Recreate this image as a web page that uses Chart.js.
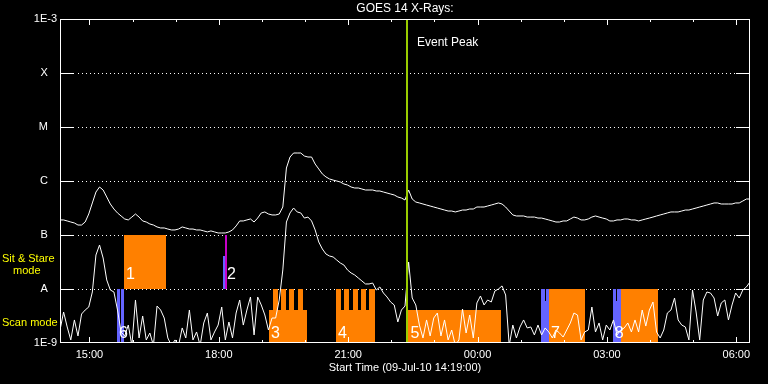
<!DOCTYPE html>
<html>
<head>
<meta charset="utf-8">
<script src="https://cdn.jsdelivr.net/npm/chart.js@4"></script>
<style>
  html, body { margin: 0; background: #000; }
  #wrap { width: 768px; height: 384px; }
</style>
</head>
<body>
<div id="wrap"><canvas id="goes"></canvas></div>
<script>
// hours after 09-Jul-10 14:19:00, one sample every 5 minutes
const stepHours = 5 / 60;

// GOES 14 long channel (upper curve), W/m^2
const longFlux = [
  1.90e-7,1.90e-7,1.82e-7,1.74e-7,1.67e-7,1.53e-7,1.53e-7,1.74e-7,2.45e-7,3.92e-7,6.25e-7,7.74e-7,
  6.81e-7,5.06e-7,3.75e-7,3.03e-7,2.56e-7,2.25e-7,1.98e-7,1.90e-7,2.15e-7,2.45e-7,2.15e-7,1.82e-7,
  1.74e-7,1.60e-7,1.53e-7,1.41e-7,1.35e-7,1.35e-7,1.29e-7,1.24e-7,1.24e-7,1.29e-7,1.41e-7,1.35e-7,
  1.29e-7,1.29e-7,1.24e-7,1.24e-7,1.19e-7,1.14e-7,1.19e-7,1.14e-7,1.09e-7,1.09e-7,1.09e-7,1.14e-7,
  1.24e-7,1.47e-7,1.82e-7,1.82e-7,1.90e-7,1.98e-7,1.74e-7,2.06e-7,2.56e-7,2.67e-7,2.45e-7,2.35e-7,
  2.35e-7,2.45e-7,3.30e-7,1.74e-6,2.78e-6,3.30e-6,3.30e-6,3.30e-6,2.90e-6,2.78e-6,2.78e-6,2.06e-6,
  1.67e-6,1.35e-6,1.19e-6,1.09e-6,1.04e-6,1.00e-6,9.58e-7,8.80e-7,8.43e-7,7.74e-7,7.42e-7,7.42e-7,
  7.11e-7,6.81e-7,6.81e-7,6.81e-7,6.53e-7,6.53e-7,6.25e-7,5.99e-7,5.74e-7,5.51e-7,5.06e-7,4.84e-7,
  4.45e-7,6.81e-7,4.64e-7,4.08e-7,3.92e-7,3.75e-7,3.59e-7,3.44e-7,3.30e-7,3.16e-7,3.03e-7,2.90e-7,
  2.78e-7,2.78e-7,2.67e-7,2.78e-7,2.90e-7,2.90e-7,3.03e-7,3.03e-7,3.30e-7,3.30e-7,3.30e-7,3.44e-7,
  3.59e-7,3.75e-7,3.92e-7,3.75e-7,3.30e-7,2.78e-7,2.35e-7,2.25e-7,2.25e-7,2.25e-7,2.15e-7,2.15e-7,
  2.15e-7,2.06e-7,2.06e-7,1.98e-7,1.90e-7,1.82e-7,1.74e-7,1.74e-7,1.82e-7,1.82e-7,1.98e-7,2.15e-7,
  2.06e-7,1.90e-7,1.90e-7,1.98e-7,2.15e-7,2.25e-7,2.15e-7,2.06e-7,1.98e-7,1.82e-7,1.82e-7,1.90e-7,
  1.90e-7,1.98e-7,1.98e-7,1.90e-7,1.90e-7,1.82e-7,1.90e-7,1.98e-7,2.06e-7,2.15e-7,2.25e-7,2.35e-7,
  2.45e-7,2.56e-7,2.67e-7,2.67e-7,2.67e-7,2.78e-7,2.90e-7,2.90e-7,3.03e-7,3.16e-7,3.30e-7,3.44e-7,
  3.59e-7,3.75e-7,3.92e-7,3.92e-7,3.75e-7,3.75e-7,3.75e-7,3.75e-7,3.92e-7,3.92e-7,4.26e-7,4.64e-7,
  4.64e-7
];

// GOES 14 short channel (lower curve), W/m^2
const shortFlux = [
  1.74e-9,3.75e-9,1.98e-9,1.14e-9,2.67e-9,1.35e-9,3.44e-9,4.08e-9,4.64e-9,8.80e-9,4.26e-8,6.53e-8,
  3.75e-8,1.47e-8,9.58e-9,8.80e-9,4.08e-9,1.60e-9,1.35e-9,2.15e-9,9e-10,6.26e-9,1.24e-9,3.16e-9,
  1.14e-9,1.53e-9,9e-10,4.84e-9,4.08e-9,2.90e-9,1.24e-9,9e-10,1.14e-9,9e-10,1.90e-9,1.24e-9,
  4.08e-9,1.14e-9,1.60e-9,9e-10,2.35e-9,3.59e-9,1.14e-9,1.60e-9,2.15e-9,4.64e-9,1.14e-9,2.45e-9,
  1.24e-9,3.59e-9,6.26e-9,2.15e-9,4.08e-9,7.11e-9,1.41e-9,7.11e-9,5.06e-9,3.30e-9,1.74e-9,2.90e-9,
  2.90e-9,6.26e-9,2.25e-8,1.74e-7,2.56e-7,3.16e-7,2.67e-7,2.56e-7,2.06e-7,2.15e-7,1.82e-7,1.24e-7,
  7.42e-8,5.51e-8,4.45e-8,4.08e-8,3.92e-8,3.44e-8,3.03e-8,2.78e-8,2.25e-8,1.98e-8,1.82e-8,1.60e-8,
  1.41e-8,1.24e-8,1.24e-8,1.29e-8,9.58e-9,1.09e-8,8.43e-9,7.11e-9,5.74e-9,5.06e-9,2.45e-9,4.08e-9,
  4.84e-9,3.16e-8,6.81e-9,5.06e-9,2.15e-9,1.24e-9,2.67e-9,1.35e-9,2.90e-9,3.59e-9,1.35e-9,2.67e-9,
  1.14e-9,1.74e-9,9e-10,1.14e-9,4.26e-9,1.53e-9,3.30e-9,1.24e-9,5.51e-9,7.42e-9,5.06e-9,6.26e-9,
  5.74e-9,9.18e-9,1.00e-8,1.14e-8,7.74e-9,9e-10,2.15e-9,1.24e-9,1.98e-9,2.67e-9,1.90e-9,1.98e-9,
  1.41e-9,2.15e-9,1.41e-9,1.90e-9,1.60e-9,1.24e-9,1.74e-9,1.53e-9,1.29e-9,1.74e-9,2.35e-9,3.59e-9,
  3.30e-9,1.14e-9,1.60e-9,1.74e-9,4.64e-9,1.60e-9,2.35e-9,1.14e-9,2.15e-9,1.74e-9,2.67e-9,1.41e-9,
  1.74e-9,1.90e-9,2.35e-9,1.60e-9,2.67e-9,1.60e-9,4.08e-9,2.06e-9,4.08e-9,5.74e-9,1.60e-9,1.24e-9,
  1.74e-9,3.59e-9,4.08e-9,6.81e-9,2.67e-9,2.15e-9,1.98e-9,1.14e-9,9.58e-9,3.75e-9,1.14e-9,6.26e-9,
  8.80e-9,8.43e-9,6.81e-9,3.16e-9,5.51e-9,6.26e-9,2.67e-9,5.06e-9,8.43e-9,6.81e-9,9.58e-9,1.09e-8,
  1.35e-8
];

// y axis: flux classes
const fluxTicks = [1e-9, 1e-8, 1e-7, 1e-6, 1e-5, 1e-4, 1e-3];
const fluxLabels = ['1E-9', 'A   ', 'B   ', 'C   ', 'M   ', 'X   ', '1E-3'];
const classLevels = [1e-8, 1e-7, 1e-6, 1e-5, 1e-4];

// x axis: whole clock hours, first one (15:00) is 41 min after start
const firstClockHour = 41 / 60;
const hourLabels = ['15:00','','','18:00','','','21:00','','','00:00','','','03:00','','','06:00'];

const eventPeakHour = 8.046;

// observing blocks, hours after start
const sitStareBlocks = [[1.484, 2.458]];           // orange, B..A
const sitStareMagenta = [[3.826, 3.872]];          // B..A
const sitStareBlue = [[3.780, 3.826]];             // up to 4.1e-8
const scanBase = [[4.846, 5.728], [6.400, 7.304], [8.081, 10.226]];   // up to 4.1e-9
const scanTeeth = [[4.939, 5.055], [5.125, 5.241], [5.310, 5.426], [5.519, 5.635],
                   [6.400, 6.516], [6.593, 6.709], [6.787, 6.903], [6.980, 7.096], [7.172, 7.304]];
const scanFull = [[11.339, 12.174], [13.001, 13.859]];
const scanBlue = [[1.322, 1.398], [1.421, 1.484], [11.154, 11.339], [12.816, 13.001]];
const scanBlueNotch = [[11.239, 11.262], [12.886, 12.916]];  // 6.1e-9..A

const blockNames = ['1', '2', '6', '3', '4', '5', '7', '8'];
const blockNameHours = [1.484, 3.826, 1.322, 4.846, 6.400, 8.081, 11.339, 12.816];
const blockNameRow = ['sit', 'sit', 'scan', 'scan', 'scan', 'scan', 'scan', 'scan'];

const FONT = "'Liberation Sans', Arial, sans-serif";
const ORANGE = '#ff8000';
const BLUE = '#6464ff';
const MAGENTA = '#c800c8';

const goesDecor = {
  id: 'goesDecor',
  beforeDatasetsDraw(chart) {
    const {ctx, chartArea: a, scales: {x, y}} = chart;
    ctx.save();
    // dotted class lines
    ctx.strokeStyle = '#fff';
    ctx.lineWidth = 1;
    ctx.setLineDash([1, 3]);
    classLevels.forEach(v => {
      const py = Math.round(y.getPixelForValue(v)) + 0.5;
      ctx.beginPath();
      ctx.moveTo(a.left + 18, py);
      ctx.lineTo(a.right - 14, py);
      ctx.stroke();
    });
    ctx.setLineDash([]);

    const rect = (t0, t1, f0, f1, color) => {
      const x0 = Math.round(x.getPixelForValue(t0));
      const x1 = Math.round(x.getPixelForValue(t1));
      const y0 = Math.round(y.getPixelForValue(f0));
      const y1 = Math.round(y.getPixelForValue(f1));
      ctx.fillStyle = color;
      ctx.fillRect(x0, y1, x1 - x0, y0 - y1);
    };
    sitStareBlocks.forEach(b => rect(b[0], b[1], 1e-8, 1e-7, ORANGE));
    sitStareBlue.forEach(b => rect(b[0], b[1], 1e-8, 4.1e-8, BLUE));
    sitStareMagenta.forEach(b => rect(b[0], b[1], 1e-8, 1e-7, MAGENTA));
    scanBase.forEach(b => rect(b[0], b[1], 1e-9, 4.1e-9, ORANGE));
    scanTeeth.forEach(b => rect(b[0], b[1], 4e-9, 1e-8, ORANGE));
    scanFull.forEach(b => rect(b[0], b[1], 1e-9, 1e-8, ORANGE));
    scanBlue.forEach(b => rect(b[0], b[1], 1e-9, 1e-8, BLUE));
    scanBlueNotch.forEach(b => rect(b[0], b[1], 6.1e-9, 1e-8, '#000'));
    ctx.restore();
  },
  afterDatasetsDraw(chart) {
    const {ctx, chartArea: a, scales: {x, y}} = chart;
    ctx.save();

    // block numbers
    ctx.fillStyle = '#fff';
    ctx.font = '16px ' + FONT;
    ctx.textBaseline = 'alphabetic';
    ctx.textAlign = 'left';
    blockNames.forEach((n, i) => {
      const px = x.getPixelForValue(blockNameHours[i]) + 2;
      const py = blockNameRow[i] === 'sit' ? y.getPixelForValue(1e-8) - 10 : y.getPixelForValue(1e-9) - 5;
      ctx.fillText(n, px, py);
    });

    // event peak
    const ex = x.getPixelForValue(eventPeakHour);
    ctx.fillStyle = '#99cc00';
    ctx.fillRect(Math.round(ex) - 1, a.top, 2, a.bottom - a.top);
    ctx.fillStyle = '#fff';
    ctx.font = '12px ' + FONT;
    ctx.textBaseline = 'middle';
    ctx.fillText('Event Peak', ex + 10, a.top + 24);

    // frame
    ctx.strokeStyle = '#fff';
    ctx.lineWidth = 1;
    ctx.strokeRect(a.left + 0.5, a.top + 0.5, a.right - a.left - 1, a.bottom - a.top - 1);

    // class ticks on both sides
    classLevels.forEach(v => {
      const py = Math.round(y.getPixelForValue(v)) + 0.5;
      ctx.beginPath();
      ctx.moveTo(a.left, py); ctx.lineTo(a.left + 14, py);
      ctx.moveTo(a.right - 14, py); ctx.lineTo(a.right, py);
      ctx.stroke();
    });

    // hour ticks at top and bottom, longer every 3 h
    hourLabels.forEach((lab, i) => {
      const px = Math.round(x.getPixelForValue(firstClockHour + i)) + 0.5;
      const len = lab ? 6 : 3;
      ctx.beginPath();
      ctx.moveTo(px, a.top); ctx.lineTo(px, a.top + len);
      ctx.moveTo(px, a.bottom); ctx.lineTo(px, a.bottom - len);
      ctx.stroke();
    });

    // title
    ctx.textAlign = 'center';
    ctx.font = '12px ' + FONT;
    ctx.fillText('GOES 14 X-Rays:', (a.left + a.right) / 2, 9);

    // mode labels
    ctx.fillStyle = '#ffff00';
    ctx.font = '11px ' + FONT;
    ctx.textAlign = 'left';
    const ssMid = y.getPixelForValue(Math.sqrt(1e-7 * 1e-8));
    ctx.fillText('Sit & Stare', 2, ssMid - 3);
    ctx.fillText('mode', 13, ssMid + 9);
    const scMid = y.getPixelForValue(Math.sqrt(1e-8 * 1e-9));
    ctx.fillText('Scan mode', 2, scMid + 7);
    ctx.restore();
  }
};

new Chart(document.getElementById('goes'), {
  type: 'line',
  data: {
    datasets: [
      {
        label: 'long',
        data: longFlux.map((v, i) => ({x: i * stepHours, y: v})),
        borderColor: '#fff',
        borderWidth: 1,
        pointRadius: 0,
        fill: false
      },
      {
        label: 'short',
        data: shortFlux.map((v, i) => ({x: i * stepHours, y: v})),
        borderColor: '#fff',
        borderWidth: 1,
        pointRadius: 0,
        fill: false
      }
    ]
  },
  options: {
    responsive: true,
    maintainAspectRatio: false,
    animation: false,
    layout: { padding: { left: 0, right: 18, top: 19, bottom: 0 } },
    plugins: { legend: { display: false }, tooltip: { enabled: false } },
    scales: {
      x: {
        type: 'linear',
        min: 0,
        max: 16,
        grid: { display: false, drawTicks: false },
        border: { display: false },
        afterBuildTicks: scale => {
          scale.ticks = hourLabels.map((l, i) => ({ value: firstClockHour + i }));
        },
        afterFit: scale => { scale.height = 41; },
        ticks: {
          color: '#fff',
          font: { family: FONT, size: 11 },
          padding: 5,
          autoSkip: false,
          maxRotation: 0,
          callback: (v, i) => hourLabels[i]
        },
        title: {
          display: true,
          text: 'Start Time (09-Jul-10 14:19:00)',
          color: '#fff',
          font: { family: FONT, size: 11 },
          padding: { top: 0, bottom: 9 }
        }
      },
      y: {
        type: 'logarithmic',
        min: 1e-9,
        max: 1e-3,
        grid: { display: false, drawTicks: false },
        border: { display: false },
        afterBuildTicks: scale => {
          scale.ticks = fluxTicks.map(v => ({ value: v }));
        },
        afterFit: scale => { scale.width = 60; },
        ticks: {
          color: '#fff',
          font: { family: FONT, size: 11 },
          padding: 3,
          autoSkip: false,
          callback: (v, i) => fluxLabels[i]
        }
      }
    }
  },
  plugins: [goesDecor]
});
</script>
</body>
</html>
